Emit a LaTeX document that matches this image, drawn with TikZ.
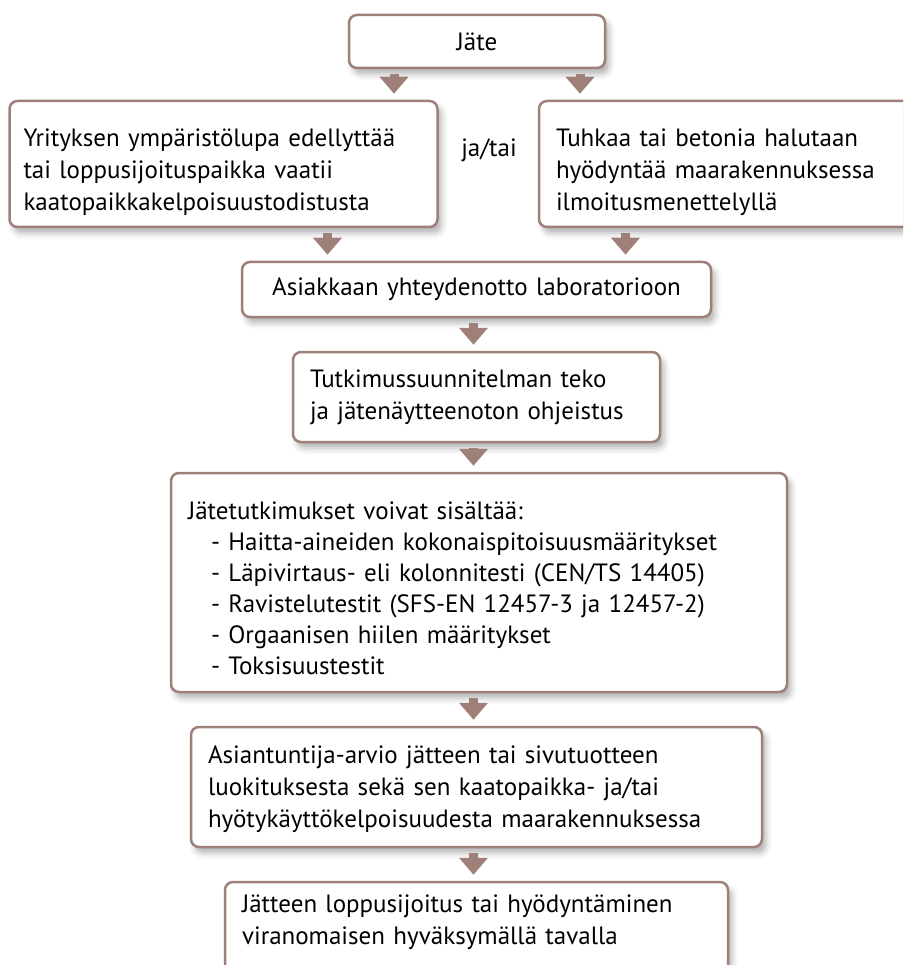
\documentclass[tikz,border=0pt]{standalone}
\usepackage{fontspec}
\setmainfont{PT Sans}
\usetikzlibrary{arrows.meta}
\usetikzlibrary{shadows.blur}
\definecolor{boxbrown}{RGB}{158,128,120}
\tikzset{
	node_box/.style = {
		rectangle,
		rounded corners=8pt,
		draw=boxbrown,
		line width=2.5pt,
		fill=white,
		align=left,
		inner xsep=17pt,
		inner ysep=0pt,
		font=\fontsize{25}{32}\selectfont,
		blur shadow={shadow xshift=4pt, shadow yshift=-6pt, shadow blur radius=6pt, shadow opacity=30}
	},
	node_box_c/.style = {
		node_box,
		align=center
	},
	node_box_low/.style = {
		node_box,
		execute at begin node={\rule{0pt}{#1}}
	},
	node_box_high/.style = {
		node_box,
		execute at end node={\rule[-#1]{0pt}{0pt}}
	},
	node_label/.style = {
		inner sep=0pt,
		font=\fontsize{25}{32}\selectfont
	},
	arrow_flow/.style = {
		draw=boxbrown,
		line width=9pt,
		-{Triangle[width=28pt,length=17pt]},
		shorten <=5pt,
		shorten >=6pt
	}
}
\begin{document}
\begin{tikzpicture}[x=1pt,y=-1pt]
\useasboundingbox (0,0) rectangle (903,965);
\clip (0,0) rectangle (903,965);
% boxes
\node [node_box_c, text width=222pt, minimum height=53pt] (jate) at (477,41.5) {J\"ate};
\node [node_box_low=34pt, inner xsep=14pt, text width=400pt, minimum height=126pt] (left) at (223.5,164) {Yrityksen ymp\"arist\"olupa edellytt\"a\"a\\tai loppusijoituspaikka vaatii\\kaatopaikkakelpoisuustodistusta};
\node [node_label] (jatai) at (489,150) {ja/tai};
\node [node_box_low=34pt, text width=346pt, minimum height=126pt] (right) at (729,164) {Tuhkaa tai betonia halutaan\\hy\"odynt\"a\"a maarakennuksessa\\ilmoitusmenettelyll\"a};
\node [node_box_c, text width=435pt, minimum height=55pt] (asiak) at (476.5,289.5) {Asiakkaan yhteydenotto laboratorioon};
\node [node_box, text width=333pt, minimum height=90pt] (tutk) at (476.5,397) {Tutkimussuunnitelman teko\\ja j\"aten\"aytteenoton ohjeistus};
\node [node_box_low=30pt, font=\fontsize{25}{31}\selectfont, text width=582pt, minimum height=219pt] (tests) at (479,582.5) {J\"atetutkimukset voivat sis\"alt\"a\"a:\\
	\hspace*{23pt}- Haitta-aineiden kokonaispitoisuusm\"a\"aritykset\\
	\hspace*{23pt}- L\"apivirtaus- eli kolonnitesti (CEN/TS 14405)\\
	\hspace*{23pt}- Ravistelutestit (SFS-EN 12457-3 ja 12457-2)\\
	\hspace*{23pt}- Orgaanisen hiilen m\"a\"aritykset\\
	\hspace*{23pt}- Toksisuustestit};
\node [node_box_low=22pt, text width=537pt, minimum height=120pt] (asiant) at (476.5,787) {Asiantuntija-arvio j\"atteen tai sivutuotteen\\luokituksesta sek\"a sen kaatopaikka- ja/tai\\hy\"otyk\"aytt\"okelpoisuudesta maarakennuksessa};
\node [node_box_high=34pt, text width=469pt, minimum height=110pt] (loppu) at (476.5,937) {J\"atteen loppusijoitus tai hy\"odynt\"aminen\\viranomaisen hyv\"aksym\"all\"a tavalla};
% arrows
\draw [arrow_flow] ([xshift=-83pt]jate.south) -- ([xshift=-83pt]jate.south |- left.north);
\draw [arrow_flow] ([xshift=103pt]jate.south) -- ([xshift=103pt]jate.south |- right.north);
\draw [arrow_flow] ([xshift=-149pt]asiak.north |- left.south) -- ([xshift=-149pt]asiak.north);
\draw [arrow_flow] ([xshift=149pt]asiak.north |- right.south) -- ([xshift=149pt]asiak.north);
\draw [arrow_flow] ([xshift=-3pt]asiak.south) -- ([xshift=-3pt]asiak.south |- tutk.north);
\draw [arrow_flow] ([xshift=-3pt]asiak.south |- tutk.south) -- ([xshift=-3pt]asiak.south |- tests.north);
\draw [arrow_flow] ([xshift=-3pt]asiak.south |- tests.south) -- ([xshift=-3pt]asiak.south |- asiant.north);
\draw [arrow_flow] ([xshift=-3pt]asiak.south |- asiant.south) -- ([xshift=-3pt]asiak.south |- loppu.north);
\end{tikzpicture}
\end{document}
